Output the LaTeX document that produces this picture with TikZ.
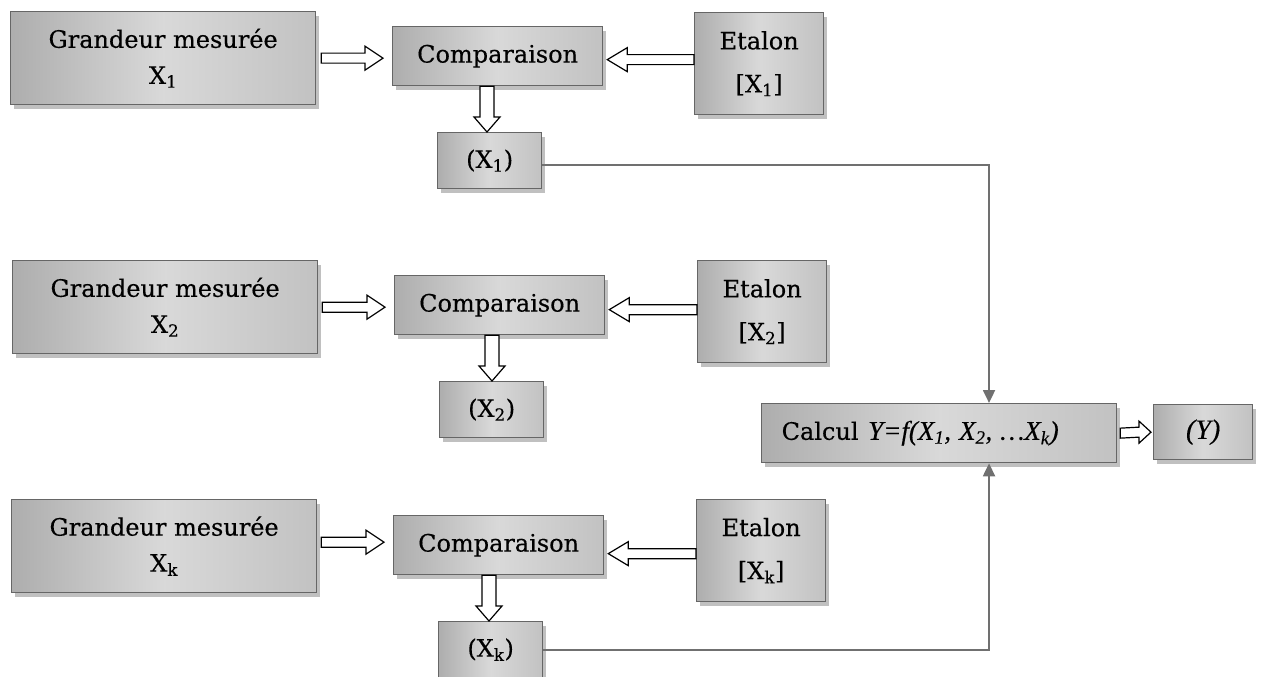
\documentclass[tikz,border=0pt]{standalone}
\usepackage{fontspec}
\setmainfont{DejaVu Serif}[FakeBold=0.35]
\newfontfamily\tnr{Liberation Serif}[FakeBold=0.3]
\usetikzlibrary{calc,shadows,arrows.meta}
\definecolor{boxline}{HTML}{666666}
\definecolor{connc}{HTML}{707070}
\tikzset{
  box/.style={draw=boxline, line width=1.3pt, anchor=north west,
    left color=black!32, right color=black!24, middle color=black!15,
    drop shadow={shadow xshift=3pt, shadow yshift=-4pt, fill=black!45, opacity=0.55},
    font=\fontsize{24}{28}\selectfont, align=center, inner sep=2pt},
  gbox/.style={box, minimum width=305pt, minimum height=93pt},
  cbox/.style={box, minimum width=210pt, minimum height=59pt},
  ebox/.style={box, minimum width=129pt, minimum height=102pt},
  pbox/.style={box, minimum width=104pt, minimum height=56pt},
  blockarr/.style={draw=black, line width=1.2pt, fill=white, line join=miter},
  conn/.style={draw=connc, line width=2pt, -{Triangle[length=13pt,width=12pt]}}
}
\newcommand\rblock[2]{\draw[blockarr] ($(#1)+(0,-5)$) -- ($(#2)+(-18,-5)$) -- ($(#2)+(-18,-12)$) -- (#2) -- ($(#2)+(-18,12)$) -- ($(#2)+(-18,5)$) -- ($(#1)+(0,5)$) -- cycle;}
\newcommand\lblock[2]{\draw[blockarr] ($(#1)+(0,-5)$) -- ($(#2)+(20,-5)$) -- ($(#2)+(20,-12)$) -- (#2) -- ($(#2)+(20,12)$) -- ($(#2)+(20,5)$) -- ($(#1)+(0,5)$) -- cycle;}
\newcommand\dblock[2]{\draw[blockarr] ($(#1)+(-7,0)$) -- ($(#2)+(-7,-15)$) -- ($(#2)+(-13,-15)$) -- (#2) -- ($(#2)+(13,-15)$) -- ($(#2)+(7,-15)$) -- ($(#1)+(7,0)$) -- cycle;}
\begin{document}
\begin{tikzpicture}[x=1pt,y=-1pt]
\useasboundingbox (0,0) rectangle (1280,677);
% row 1
\node[gbox] (G1) at (10,11) {Grandeur mesurée\\[8pt]X\textsubscript{1}};
\node[cbox] (C1) at (392,26) {Comparaison};
\node[ebox] (E1) at (694,12) {Etalon\\[15pt][X\textsubscript{1}]};
\node[pbox] (P1) at (437,132) {(X\textsubscript{1})};
% row 2
\node[gbox] (G2) at (12,260) {Grandeur mesurée\\[8pt]X\textsubscript{2}};
\node[cbox] (C2) at (394,275) {Comparaison};
\node[ebox] (E2) at (697,260) {Etalon\\[15pt][X\textsubscript{2}]};
\node[pbox] (P2) at (439,381) {(X\textsubscript{2})};
% row 3
\node[gbox] (Gk) at (11,499) {Grandeur mesurée\\[8pt]X\textsubscript{k}};
\node[cbox] (Ck) at (393,515) {Comparaison};
\node[ebox] (Ek) at (696,499) {Etalon\\[15pt][X\textsubscript{k}]};
\node[pbox] (Pk) at (438,621) {(X\textsubscript{k})};
% calcul
\node[box, minimum height=59pt, text width=315pt, inner xsep=20pt, align=left] (Calc) at (761,403)
  {Calcul\hspace{0.4em}{\tnr\itshape\fontsize{27}{30}\selectfont Y=f(X\textsubscript{1}, X\textsubscript{2}, …X\textsubscript{k})}};
\node[box, minimum width=99pt, minimum height=55pt] (Y) at (1153,404) {\tnr\itshape\fontsize{28}{30}\selectfont (Y)};
% block arrows row 1
\coordinate (a1s) at ($(G1.east)+(5,0)$);
\coordinate (a1e) at ($(C1.west |- G1.east)+(-9,0)$);
\rblock{a1s}{a1e}
\coordinate (b1s) at ($(E1.west)+(0,-4)$);
\coordinate (b1e) at ($(C1.east |- b1s)+(4,0)$);
\lblock{b1s}{b1e}
\coordinate (d1s) at ($(C1.south west)+(95,0)$);
\coordinate (d1e) at (d1s |- P1.north);
\dblock{d1s}{d1e}
% row 2
\coordinate (a2s) at ($(G2.east)+(4,0)$);
\coordinate (a2e) at ($(C2.west |- G2.east)+(-9,0)$);
\rblock{a2s}{a2e}
\coordinate (b2s) at ($(E2.west)+(0,-2)$);
\coordinate (b2e) at ($(C2.east |- b2s)+(4,0)$);
\lblock{b2s}{b2e}
\coordinate (d2s) at ($(C2.south west)+(98,0)$);
\coordinate (d2e) at (d2s |- P2.north);
\dblock{d2s}{d2e}
% row 3
\coordinate (a3s) at ($(Gk.east)+(4,-4)$);
\coordinate (a3e) at ($(Ck.west |- a3s)+(-9,0)$);
\rblock{a3s}{a3e}
\coordinate (b3s) at ($(Ek.west)+(0,3)$);
\coordinate (b3e) at ($(Ck.east |- b3s)+(4,0)$);
\lblock{b3s}{b3e}
\coordinate (d3s) at ($(Ck.south west)+(96,0)$);
\coordinate (d3e) at (d3s |- Pk.north);
\dblock{d3s}{d3e}
% output arrow
\coordinate (ys) at ($(Calc.east)+(3,0)$);
\coordinate (ye) at ($(Y.west)+(-2,0)$);
\draw[blockarr] ($(ys)+(0,-5)$) -- ($(ye)+(-12,-5)$) -- ($(ye)+(-12,-11)$) -- (ye) -- ($(ye)+(-12,11)$) -- ($(ye)+(-12,5)$) -- ($(ys)+(0,5)$) -- cycle;
% connectors
\coordinate (cin1) at ($(Calc.north west)!0.64!(Calc.north east)$);
\coordinate (cin2) at ($(Calc.south west)!0.64!(Calc.south east)$);
\coordinate (p1o) at ($(P1.east)+(0,4)$);
\draw[conn] (p1o) -| (cin1);
\draw[conn] (Pk.east) -| (cin2);
\end{tikzpicture}
\end{document}
